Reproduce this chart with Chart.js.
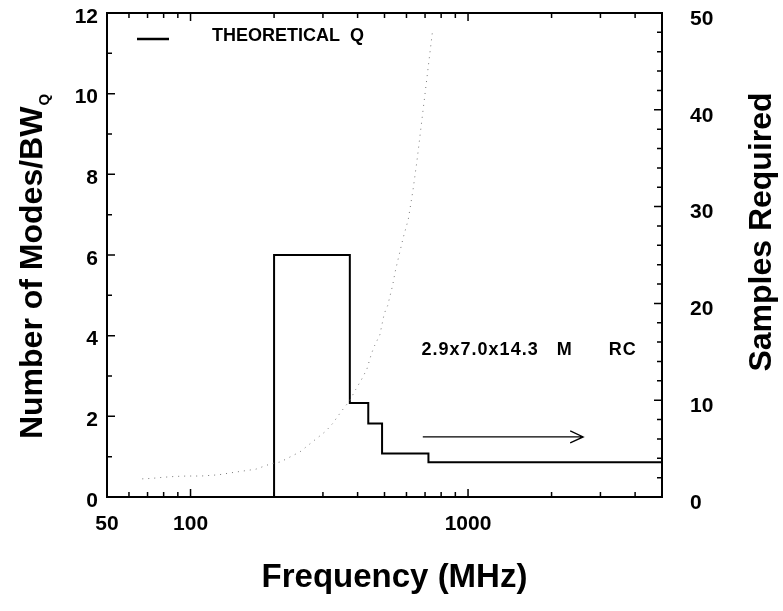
<!DOCTYPE html>
<html>
<head>
<meta charset="utf-8">
<script src="https://cdn.jsdelivr.net/npm/chart.js@4.4.0/dist/chart.umd.min.js"></script>
<style>
html, body { margin: 0; padding: 0; background: #fff; }
</style>
</head>
<body>
<canvas id="grafica" width="783" height="611"></canvas>
<script>
// Curva punteada: modos por ancho de banda (eje izquierdo)
const modosFreq = [67, 72, 80, 88, 97, 109, 126, 143, 172, 194, 211, 248, 287, 307, 325, 350, 374, 394, 413, 432, 449, 461, 481, 499, 513, 535, 546, 584, 609, 633, 653, 662, 745];
const modosValor = [0.45, 0.46, 0.49, 0.51, 0.52, 0.52, 0.55, 0.61, 0.69, 0.82, 0.87, 1.12, 1.47, 1.63, 1.82, 2.13, 2.38, 2.67, 2.91, 3.17, 3.56, 3.76, 4.02, 4.55, 4.74, 5.25, 5.58, 6.43, 6.88, 7.60, 8.28, 8.61, 11.56];

// Escalones: muestras requeridas (eje derecho)
const muestrasFreq = [200, 200, 375, 437, 490, 720, 5000];
const muestrasValor = [0, 25, 9.7, 7.6, 4.5, 3.6, 3.6];

// Etiquetas de los ejes
const xEtiquetas = [50, 100, 1000];
const xMarcas = [60, 70, 80, 90, 100, 200, 300, 400, 500, 600, 700, 800, 900, 1000, 2000, 3000, 4000];
const yIzqEtiquetas = [0, 2, 4, 6, 8, 10, 12];
const yDerEtiquetas = [0, 10, 20, 30, 40, 50];

const leyendaTexto = 'THEORETICAL  Q';
const notaTexto = '2.9x7.0x14.3   M      RC';
const notaPos = { f: 680, v: 3.65 };
const flechaDesde = { f: 687, v: 1.49 };
const flechaHasta = { f: 2600, v: 1.49 };

const FUENTE = '"Liberation Sans", Arial, Helvetica, sans-serif';

const dibujoExtra = {
    id: 'dibujoExtra',
    afterDraw(chart) {
        const ctx = chart.ctx;
        const a = chart.chartArea;
        const sx = chart.scales.x, sy = chart.scales.y, sy1 = chart.scales.y1;
        ctx.save();
        ctx.strokeStyle = '#000';
        ctx.fillStyle = '#000';

        // marco completo
        ctx.lineWidth = 2;
        ctx.strokeRect(a.left, a.top, a.right - a.left, a.bottom - a.top);

        // marcas hacia adentro
        ctx.lineWidth = 1.5;
        ctx.beginPath();
        xMarcas.forEach(v => {
            const px = sx.getPixelForValue(v);
            const largo = xEtiquetas.includes(v) ? 8 : 5;
            ctx.moveTo(px, a.bottom); ctx.lineTo(px, a.bottom - largo);
            ctx.moveTo(px, a.top); ctx.lineTo(px, a.top + largo);
        });
        for (let v = 1; v < 12; v++) {
            const py = sy.getPixelForValue(v);
            const largo = v % 2 === 0 ? 8 : 5;
            ctx.moveTo(a.left, py); ctx.lineTo(a.left + largo, py);
        }
        for (let v = 2; v < 50; v += 2) {
            const py = sy1.getPixelForValue(v);
            const largo = v % 10 === 0 ? 8 : 5;
            ctx.moveTo(a.right, py); ctx.lineTo(a.right - largo, py);
        }
        ctx.stroke();

        // leyenda
        ctx.lineWidth = 2.5;
        ctx.beginPath();
        ctx.moveTo(a.left + 30, a.top + 26);
        ctx.lineTo(a.left + 62, a.top + 26);
        ctx.stroke();
        ctx.font = 'bold 18px ' + FUENTE;
        ctx.textAlign = 'left';
        ctx.textBaseline = 'middle';
        ctx.fillText(leyendaTexto, a.left + 105, a.top + 23);

        // nota del recinto
        ctx.letterSpacing = '1px';
        ctx.fillText(notaTexto, sx.getPixelForValue(notaPos.f), sy.getPixelForValue(notaPos.v));
        ctx.letterSpacing = '0px';

        // flecha
        const x1 = sx.getPixelForValue(flechaDesde.f), y1 = sy.getPixelForValue(flechaDesde.v);
        const x2 = sx.getPixelForValue(flechaHasta.f), y2 = sy.getPixelForValue(flechaHasta.v);
        ctx.lineWidth = 1.3;
        ctx.beginPath();
        ctx.moveTo(x1, y1); ctx.lineTo(x2, y2);
        ctx.moveTo(x2 - 13, y2 - 6); ctx.lineTo(x2, y2); ctx.lineTo(x2 - 13, y2 + 6);
        ctx.stroke();

        // titulos
        ctx.font = 'bold 33px ' + FUENTE;
        ctx.textAlign = 'center';
        ctx.fillText('Frequency (MHz)', (a.left + a.right) / 2 + 10, a.bottom + 81);

        ctx.font = 'bold 32px ' + FUENTE;
        ctx.save();
        ctx.translate(762, 232);
        ctx.rotate(-Math.PI / 2);
        ctx.fillText('Samples Required', 0, 0);
        ctx.restore();

        ctx.save();
        ctx.translate(33, 267);
        ctx.rotate(-Math.PI / 2);
        const principal = 'Number of Modes/BW';
        ctx.font = 'bold 32px ' + FUENTE;
        const w1 = ctx.measureText(principal).width;
        ctx.font = 'bold 15px ' + FUENTE;
        const w2 = ctx.measureText('Q').width;
        const inicio = -(w1 + w2) / 2;
        ctx.textAlign = 'left';
        ctx.font = 'bold 32px ' + FUENTE;
        ctx.fillText(principal, inicio, 0);
        ctx.font = 'bold 15px ' + FUENTE;
        ctx.fillText('Q', inicio + w1 + 1, 12);
        ctx.restore();

        ctx.restore();
    }
};

// sin relleno extra arriba/abajo en los ejes verticales
function ajustarVertical(ancho) {
    return scale => {
        scale.width = ancho;
        scale.paddingTop = 0;
        scale.paddingBottom = 0;
    };
}

const ctx = document.getElementById('grafica').getContext('2d');

new Chart(ctx, {
    type: 'line',
    data: {
        datasets: [{
            label: 'Modes/BW',
            data: modosFreq.map((f, i) => ({ x: f, y: modosValor[i] })),
            borderColor: '#777',
            borderWidth: 1,
            borderDash: [1, 5],
            pointRadius: 0,
            tension: 0,
            yAxisID: 'y'
        }, {
            label: 'THEORETICAL Q',
            data: muestrasFreq.map((f, i) => ({ x: f, y: muestrasValor[i] })),
            borderColor: '#000',
            borderWidth: 2,
            stepped: 'before',
            pointRadius: 0,
            yAxisID: 'y1'
        }]
    },
    options: {
        responsive: false,
        animation: false,
        devicePixelRatio: 1,
        layout: { padding: { top: 13, left: 0, right: 0, bottom: 0 } },
        plugins: { legend: { display: false }, tooltip: { enabled: false } },
        scales: {
            x: {
                type: 'logarithmic',
                position: 'bottom',
                min: 50,
                max: 5000,
                grid: { display: false, drawTicks: false },
                border: { display: false },
                afterBuildTicks: scale => { scale.ticks = xEtiquetas.map(v => ({ value: v })); },
                afterFit: scale => { scale.height = 114; scale.paddingLeft = 0; scale.paddingRight = 0; },
                ticks: {
                    autoSkip: false,
                    maxRotation: 0,
                    padding: 15,
                    color: '#000',
                    font: { family: FUENTE, size: 21, weight: 'bold' },
                    callback: v => String(v)
                }
            },
            y: {
                position: 'left',
                min: 0,
                max: 12,
                grid: { display: false, drawTicks: false },
                border: { display: false },
                afterBuildTicks: scale => { scale.ticks = yIzqEtiquetas.map(v => ({ value: v })); },
                afterFit: ajustarVertical(107),
                ticks: {
                    padding: 9,
                    labelOffset: 4,
                    color: '#000',
                    font: { family: FUENTE, size: 21, weight: 'bold' }
                }
            },
            y1: {
                position: 'right',
                min: 0,
                max: 50,
                grid: { display: false, drawTicks: false },
                border: { display: false },
                afterBuildTicks: scale => { scale.ticks = yDerEtiquetas.map(v => ({ value: v })); },
                afterFit: ajustarVertical(121),
                ticks: {
                    padding: 28,
                    labelOffset: 6,
                    color: '#000',
                    font: { family: FUENTE, size: 21, weight: 'bold' }
                }
            }
        }
    },
    plugins: [dibujoExtra]
});
</script>
</body>
</html>
